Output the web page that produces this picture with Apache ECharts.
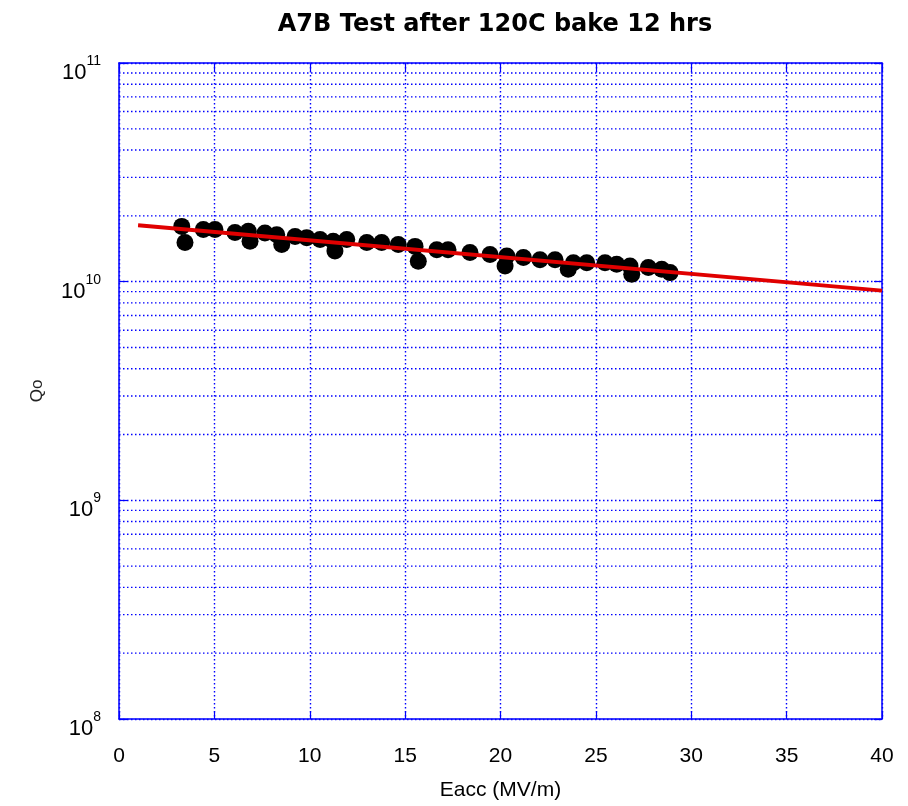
<!DOCTYPE html>
<html>
<head>
<meta charset="utf-8">
<script src="https://cdn.jsdelivr.net/npm/echarts@6/dist/echarts.min.js"></script>
<style>
html,body{margin:0;padding:0;background:#fff;}
#chart{width:908px;height:806px;}
</style>
</head>
<body>
<div id="chart"></div>
<script>
// ---- data ----
var titleText = 'A7B Test after 120C bake 12 hrs';
var xName = 'Eacc (MV/m)';
var yName = 'Qo';
var xTicks = [0, 5, 10, 15, 20, 25, 30, 35, 40];
var yDecades = [1e8, 1e9, 1e10, 1e11];
var yMinorGrid = [2e8,3e8,4e8,5e8,6e8,7e8,8e8,9e8,
                  2e9,3e9,4e9,5e9,6e9,7e9,8e9,9e9,
                  2e10,3e10,4e10,5e10,6e10,7e10,8e10,9e10];
var eacc = [3.29,3.46,4.42,5.03,6.08,6.78,6.87,7.65,8.27,8.53,9.23,9.84,10.54,11.23,11.32,11.94,12.99,13.77,14.64,15.52,15.69,16.66,17.25,18.40,19.45,20.33,20.24,21.20,22.07,22.86,23.82,23.55,24.52,25.48,26.09,26.79,26.88,27.75,28.45,28.89];
var q0 = [1.79e10,1.51e10,1.73e10,1.73e10,1.68e10,1.70e10,1.53e10,1.67e10,1.64e10,1.48e10,1.61e10,1.59e10,1.56e10,1.53e10,1.38e10,1.56e10,1.51e10,1.51e10,1.48e10,1.45e10,1.24e10,1.40e10,1.40e10,1.36e10,1.33e10,1.31e10,1.18e10,1.29e10,1.26e10,1.26e10,1.22e10,1.14e10,1.22e10,1.22e10,1.20e10,1.18e10,1.08e10,1.16e10,1.14e10,1.10e10];
var fitX = [1, 40];
var fitQ = [1.81e10, 9.1e9];

// ---- chart ----
var FONT = 'Arial, "Liberation Sans", sans-serif';
var BLUE = '#0000ff';
var chart = echarts.init(document.getElementById('chart'), null, {renderer: 'canvas'});

var points = eacc.map(function (x, i) { return [x, q0[i]]; });
var fit = fitX.map(function (x, i) { return [x, fitQ[i]]; });
function dotted() { return {color: BLUE, width: 1.4, type: [1.5, 2.5], opacity: 1}; }

function yLabel(v) {
  var e = Math.round(Math.log10(v));
  return '{b|10}{s|' + e + '}';
}

var xMin = xTicks[0], xMax = xTicks[xTicks.length - 1];
var gridSeries = yMinorGrid.map(function (v) {
  return {
    type: 'line', data: [[xMin, v], [xMax, v]], silent: true,
    symbol: 'none', showSymbol: false, lineStyle: dotted(), z: 1
  };
});

var option = {
  backgroundColor: '#fff',
  animation: false,
  title: {
    text: titleText,
    left: 490,
    textAlign: 'center',
    top: 8,
    textStyle: {fontFamily: '"DejaVu Sans", Arial, sans-serif', fontSize: 24, fontWeight: 'bold', color: '#000'}
  },
  grid: {left: 119, right: 26, top: 63, bottom: 85, containLabel: false},
  xAxis: [{
    type: 'value', min: xMin, max: xMax, interval: 5,
    name: xName, nameLocation: 'middle', nameGap: 61,
    nameTextStyle: {fontFamily: FONT, fontSize: 21, color: '#000'},
    axisLine: {show: true, onZero: false, lineStyle: {color: BLUE, width: 1.5}},
    axisTick: {show: true, inside: true, length: 8, lineStyle: {color: BLUE, width: 1.2}},
    axisLabel: {fontFamily: FONT, fontSize: 21, color: '#000', margin: 27,
      formatter: function (v) { return xTicks.indexOf(v) >= 0 ? String(v) : ''; }},
    splitLine: {show: true, lineStyle: dotted()}
  }, {
    type: 'value', min: xMin, max: xMax, interval: 5, position: 'top',
    axisLine: {show: true, onZero: false, lineStyle: {color: BLUE, width: 1.5}},
    axisTick: {show: true, inside: true, length: 8, lineStyle: {color: BLUE, width: 1.2}},
    axisLabel: {show: false}, splitLine: {show: false}
  }],
  yAxis: [{
    type: 'log', logBase: 10, min: yDecades[0], max: yDecades[yDecades.length - 1],
    name: yName, nameLocation: 'middle', nameGap: 73, nameRotate: 90,
    nameTextStyle: {fontFamily: FONT, fontSize: 17, color: '#222'},
    axisLine: {show: true, onZero: false, lineStyle: {color: BLUE, width: 1.5}},
    axisTick: {show: true, inside: true, length: 8, lineStyle: {color: BLUE, width: 1.2}},
    axisLabel: {margin: 18, formatter: yLabel, padding: [12, 0, 0, 0],
      rich: {
        b: {fontFamily: FONT, fontSize: 22, color: '#000', lineHeight: 30, verticalAlign: 'bottom'},
        s: {fontFamily: FONT, fontSize: 14, color: '#000', lineHeight: 30, verticalAlign: 'top'}
      }},
    splitLine: {show: true, lineStyle: dotted()}
  }, {
    type: 'log', logBase: 10, min: yDecades[0], max: yDecades[yDecades.length - 1], position: 'right',
    axisLine: {show: true, onZero: false, lineStyle: {color: BLUE, width: 1.5}},
    axisTick: {show: true, inside: true, length: 8, lineStyle: {color: BLUE, width: 1.2}},
    axisLabel: {show: false}, splitLine: {show: false}
  }],
  series: gridSeries.concat([{
    type: 'scatter', data: points, symbol: 'circle', symbolSize: 17,
    itemStyle: {color: '#000', opacity: 1}, z: 3
  }, {
    type: 'line', data: fit, showSymbol: false, symbol: 'none',
    lineStyle: {color: '#e00000', width: 4}, z: 4
  }])
};
chart.setOption(option);
</script>
</body>
</html>
